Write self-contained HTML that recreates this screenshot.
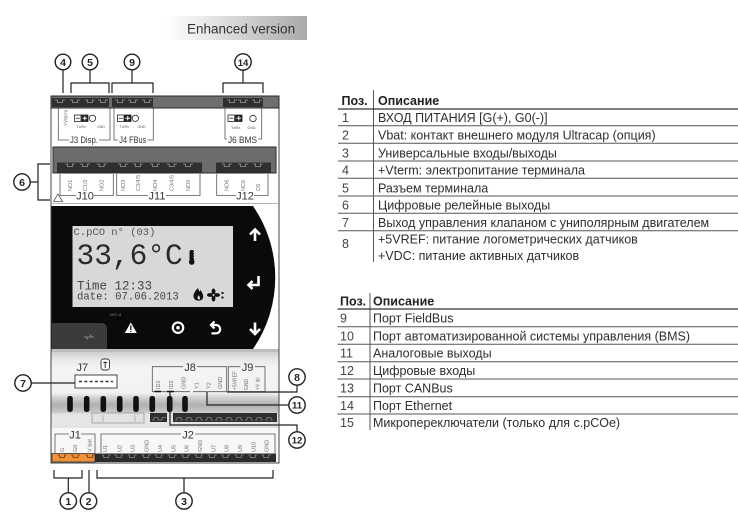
<!DOCTYPE html>
<html><head><meta charset="utf-8">
<style>
html,body{margin:0;padding:0;background:#fff;}
svg{display:block;}
text{font-family:"Liberation Sans",Arial,sans-serif;}
.mono{font-family:"Liberation Mono","DejaVu Sans Mono",monospace;}
.t{font-size:12.5px;fill:#2e2e2e;}
.n{font-size:12.5px;fill:#444;}
.h{font-size:12.5px;font-weight:bold;fill:#222;}
.rl{font-size:5.5px;fill:#707070;}
.rs{font-size:5px;fill:#707070;}
.jl{font-size:11px;fill:#333;}
.js{font-size:9.5px;fill:#333;}
.tiny{font-size:3.6px;fill:#555;}
.cn{font-size:10.5px;font-weight:bold;fill:#222;text-anchor:middle;}
</style></head><body>
<svg width="738" height="528" viewBox="0 0 738 528" xmlns="http://www.w3.org/2000/svg">
<defs>
<linearGradient id="eg" x1="0" x2="1" y1="0" y2="0">
<stop offset="0" stop-color="#ffffff"/><stop offset="0.25" stop-color="#ececec"/><stop offset="1" stop-color="#a9a9a9"/>
</linearGradient>
<linearGradient id="lg" gradientUnits="userSpaceOnUse" x1="0" y1="352" x2="0" y2="463">
<stop offset="0" stop-color="#cfcfcf"/>
<stop offset="0.072" stop-color="#e9e9e9"/>
<stop offset="0.144" stop-color="#f4f4f4"/>
<stop offset="0.369" stop-color="#f2f2f2"/>
<stop offset="0.405" stop-color="#d5d5d5"/>
<stop offset="0.477" stop-color="#b0b0b0"/>
<stop offset="0.54" stop-color="#c8c8c8"/>
<stop offset="0.56" stop-color="#e4e4e4"/>
<stop offset="0.667" stop-color="#e6e6e6"/>
<stop offset="0.685" stop-color="#f7f7f7"/>
<stop offset="1" stop-color="#f7f7f7"/>
</linearGradient>
</defs>

<!-- Enhanced version label -->
<rect x="165" y="16" width="142" height="24" fill="url(#eg)"/>
<text x="187" y="33.3" style="font-size:13.5px;fill:#333;">Enhanced version</text>

<!-- ===== DEVICE BODY ===== -->
<rect x="51" y="96" width="228" height="367" fill="#fff" stroke="#444" stroke-width="1"/>
<rect x="51.5" y="352" width="227" height="110.5" fill="url(#lg)"/>

<!-- top bar -->
<rect x="51" y="96" width="228" height="12" fill="#6f6f6f" stroke="#2a2a2a" stroke-width="1"/>
<rect x="52" y="98" width="57" height="9" fill="#2f2f2f"/>
<rect x="112" y="98" width="41" height="9" fill="#2f2f2f"/>
<rect x="223" y="98" width="40" height="9" fill="#2f2f2f"/>
<path d="M55 100h2.5v2.5h5v-2.5h2.5 M70 100h2.5v2.5h5v-2.5h2.5 M85 100h2.5v2.5h5v-2.5h2.5 M98 100h2.5v2.5h5v-2.5h2.5 M115 100h2.5v2.5h5v-2.5h2.5 M128 100h2.5v2.5h5v-2.5h2.5 M142 100h2.5v2.5h5v-2.5h2.5 M227 100h2.5v2.5h5v-2.5h2.5 M238 100h2.5v2.5h5v-2.5h2.5 M252 100h2.5v2.5h5v-2.5h2.5" stroke="#9a9a9a" stroke-width="0.8" fill="none"/>

<!-- J3 / J4 / J6 frames -->
<g stroke="#555" stroke-width="0.8" fill="none">
<path d="M58.3 108.5V140H69 M99 140H110V108.5"/>
<path d="M114 108.5V140H118 M147.5 140H153.3V108.5"/>
<path d="M225 108.5V139H227 M258 139H261.7V108.5"/>
</g>
<text class="js" x="70" y="143" textLength="28" lengthAdjust="spacingAndGlyphs">J3 Disp.</text>
<text class="js" x="119.3" y="143" textLength="27" lengthAdjust="spacingAndGlyphs">J4 FBus</text>
<text class="js" x="228" y="143" textLength="29" lengthAdjust="spacingAndGlyphs">J6 BMS</text>
<text class="rs" transform="translate(67.5,126) rotate(-90)">+Vterm</text>
<!-- icons -->
<g stroke="#222" stroke-width="0.8">
<rect x="74.5" y="115" width="6.5" height="6.5" fill="#fff"/><line x1="75.8" y1="118.25" x2="79.7" y2="118.25"/>
<rect x="81.5" y="115" width="6.5" height="6.5" fill="#222"/>
<circle cx="92.5" cy="118.3" r="3.2" fill="#fff"/>
<rect x="117.5" y="115" width="6.5" height="6.5" fill="#fff"/><line x1="118.8" y1="118.25" x2="122.7" y2="118.25"/>
<rect x="124.5" y="115" width="6.5" height="6.5" fill="#222"/>
<circle cx="135.3" cy="118.3" r="3.2" fill="#fff"/>
<rect x="228" y="115" width="6.5" height="6.5" fill="#fff"/><line x1="229.3" y1="118.25" x2="233.2" y2="118.25"/>
<rect x="235.5" y="115" width="6.5" height="6.5" fill="#222"/>
<circle cx="253" cy="118.5" r="3.2" fill="#fff"/>
</g>
<g stroke="#fff" stroke-width="1">
<path d="M82.6 118.25h4.3 M84.75 116.1v4.3 M125.6 118.25h4.3 M127.75 116.1v4.3 M236.6 118.25h4.3 M238.75 116.1v4.3"/>
</g>
<text class="tiny" x="76.5" y="128">Tx/Rx</text><text class="tiny" x="97" y="128">GND</text>
<text class="tiny" x="119.5" y="128">Tx/Rx</text><text class="tiny" x="137.5" y="128">GND</text>
<text class="tiny" x="231" y="129">Tx/Rx</text><text class="tiny" x="247.5" y="129">GND</text>

<!-- second bar -->
<rect x="53" y="147" width="223" height="26" fill="#6c6c6c" stroke="#2a2a2a" stroke-width="1"/>
<rect x="57" y="162.5" width="145" height="10" fill="#2f2f2f"/>
<rect x="216" y="162.5" width="55" height="10" fill="#2f2f2f"/>
<path d="M65 164h2.5v2.5h5v-2.5h2.5 M80 164h2.5v2.5h5v-2.5h2.5 M96.7 164h2.5v2.5h5v-2.5h2.5 M118 164h2.5v2.5h5v-2.5h2.5 M133 164h2.5v2.5h5v-2.5h2.5 M150 164h2.5v2.5h5v-2.5h2.5 M166.7 164h2.5v2.5h5v-2.5h2.5 M183 164h2.5v2.5h5v-2.5h2.5 M221.7 164h2.5v2.5h5v-2.5h2.5 M238 164h2.5v2.5h5v-2.5h2.5 M253 164h2.5v2.5h5v-2.5h2.5" stroke="#9a9a9a" stroke-width="0.8" fill="none"/>

<!-- relay labels -->
<text class="rl" transform="translate(72,191) rotate(-90)">NO1</text>
<text class="rl" transform="translate(87,191) rotate(-90)">C1/2</text>
<text class="rl" transform="translate(103.7,191) rotate(-90)">NO2</text>
<text class="rl" transform="translate(125,191) rotate(-90)">NO3</text>
<text class="rl" transform="translate(140,191) rotate(-90)">C3/4/5</text>
<text class="rl" transform="translate(157,191) rotate(-90)">NO4</text>
<text class="rl" transform="translate(173.7,191) rotate(-90)">C3/4/5</text>
<text class="rl" transform="translate(190,191) rotate(-90)">NO5</text>
<text class="rl" transform="translate(228.7,191) rotate(-90)">NO6</text>
<text class="rl" transform="translate(245,191) rotate(-90)">NC6</text>
<text class="rl" transform="translate(260,191) rotate(-90)">C6</text>
<g stroke="#555" stroke-width="0.8" fill="none">
<path d="M60 174V195.5H76 M94 195.5H113.3V174"/>
<path d="M116.7 174V195.5H148 M166 195.5H200V174"/>
<path d="M216.7 174V195.5H236 M254 195.5H268V174"/>
<path d="M58 194L62.5 201.5H53.5Z"/>
</g>
<text class="jl" x="85" y="199.5" text-anchor="middle">J10</text>
<text class="jl" x="157" y="199.5" text-anchor="middle">J11</text>
<text class="jl" x="245" y="199.5" text-anchor="middle">J12</text>
<line x1="51" y1="203.5" x2="279" y2="203.5" stroke="#999" stroke-width="0.8"/>

<!-- display panel -->
<path d="M51.5 206H253A126 126 0 0 1 253 349H51.5Z" fill="#0a0a0a"/>
<rect x="72.5" y="226" width="160.5" height="81" fill="#d8d8d8"/>
<text class="mono" x="73.5" y="235" style="font-size:10.5px;fill:#555;">C.pCO n° (03)</text>
<text class="mono" x="76.5" y="264" style="font-size:29.5px;fill:#2a2a2a;">33,6°C</text>
<rect x="189.5" y="250" width="4.5" height="11" rx="2" fill="#111"/>
<circle cx="191.75" cy="262" r="2.8" fill="#111"/>
<path d="M193 252.5h1.5 M193 255h1.5 M193 257.5h1.5" stroke="#d8d8d8" stroke-width="0.7"/>
<text class="mono" x="77" y="289.3" style="font-size:12.5px;fill:#444;">Time 12:33</text>
<text class="mono" x="77" y="299.3" style="font-size:10.6px;fill:#444;">date: 07.06.2013</text>
<path d="M198 288C193 293 193 296 194 298C195 301.5 202 301.5 203 298C204 294 201 292 200.5 289C200.5 292 199.5 293 198 288Z" fill="#111"/>
<path d="M198.5 299.5C197 298.5 197.5 296.5 198.7 295.2C199.5 296.5 200.5 297.5 199.8 299.5Z" fill="#d8d8d8"/>
<g fill="#111">
<ellipse cx="213.5" cy="291.6" rx="1.9" ry="3.1"/>
<ellipse cx="213.5" cy="298.4" rx="1.9" ry="3.1"/>
<ellipse cx="210.1" cy="295" rx="3.1" ry="1.9"/>
<ellipse cx="216.9" cy="295" rx="3.1" ry="1.9"/>
<rect x="221.5" y="292" width="2" height="2"/><rect x="221.5" y="296.5" width="2" height="2"/>
</g>
<circle cx="213.5" cy="295" r="1" fill="#d8d8d8"/>

<!-- buttons -->
<g stroke="#fff" stroke-width="2.6" fill="none" stroke-linecap="butt">
<path d="M255 241V230 M250 234.5L255 229.5L260 234.5"/>
<path d="M258.5 276V285H249 M252.5 281L248.5 285L252.5 289"/>
<path d="M255 322.5V333.5 M250 329L255 334L260 329"/>
<circle cx="178" cy="327.7" r="5.2" stroke-width="2.2"/>
<path d="M211.5 325H216A4.2 4.2 0 0 1 216 333.4H211.5" stroke-width="2.2"/>
<path d="M214.5 321.5L211 325L214.5 328.5" stroke-width="2.2"/>
</g>
<circle cx="178" cy="327.7" r="1.8" fill="#fff"/>
<path d="M130.8 322.5L136.8 333H124.8Z" fill="#fff"/>
<path d="M130.8 325.5V330 M130.8 331V332" stroke="#0a0a0a" stroke-width="1.3"/>
<path d="M52 323H101Q107 323 107 329V349H52Z" fill="#3b3b3b"/>
<path d="M84 337h10 M90 334.5l2 2.5 M88 339.5l-2 -2.5" stroke="#999" stroke-width="0.8" fill="none"/>
<text x="110" y="316" style="font-size:3.8px;fill:#888;">NFC-8</text>
<rect x="51.5" y="349" width="227" height="3" fill="#bdbdbd"/>

<!-- J7 -->
<text class="jl" x="76.5" y="371">J7</text>
<rect x="101" y="359" width="8.5" height="11" rx="2.5" fill="#fff" stroke="#333" stroke-width="0.9"/>
<path d="M105.2 361.5V368 M103.3 362.5h3.8" stroke="#333" stroke-width="1"/>
<rect x="75" y="375" width="42" height="13" fill="#fff" stroke="#333" stroke-width="0.9"/>
<path d="M79 381.5H113" stroke="#333" stroke-width="1.5" stroke-dasharray="3 2.3"/>

<!-- J8 / J9 frames -->
<g stroke="#555" stroke-width="0.8" fill="none">
<path d="M152.3 391.7V366.7H183 M197 366.7H226.7V391.7"/>
<path d="M228.3 391.7V366.7H240.5 M255 366.7H265V391.7"/>
<path d="M152.3 391.7H190 M193 391.7H226.7 M228.3 391.7H265"/>
</g>
<path d="M154.5 391.5H161 M167 391.5H174" stroke="#111" stroke-width="1.6"/>
<text class="jl" x="190" y="371" text-anchor="middle">J8</text>
<text class="jl" x="247.5" y="371" text-anchor="middle">J9</text>
<text class="rl" transform="translate(160,389) rotate(-90)">ID1</text>
<text class="rl" transform="translate(173,389) rotate(-90)">ID2</text>
<text class="rl" transform="translate(185.3,389) rotate(-90)">GND</text>
<text class="rl" transform="translate(198.7,389) rotate(-90)">Y1</text>
<text class="rl" transform="translate(210.3,389) rotate(-90)">Y2</text>
<text class="rl" transform="translate(222,389) rotate(-90)">GND</text>
<text class="rs" transform="translate(236.3,390) rotate(-90)">+5VREF</text>
<text class="rs" transform="translate(248,390) rotate(-90)">GND</text>
<text class="rs" transform="translate(259.7,390) rotate(-90)">+V dc</text>

<!-- pins -->
<g fill="#111">
<rect x="67.2" y="396" width="5.6" height="16" rx="2.5"/>
<rect x="83.9" y="396" width="5.6" height="16" rx="2.5"/>
<rect x="100.5" y="396" width="5.6" height="16" rx="2.5"/>
<rect x="116.9" y="396" width="5.6" height="16" rx="2.5"/>
<rect x="133.2" y="396" width="5.6" height="16" rx="2.5"/>
<rect x="149.5" y="396" width="5.6" height="16" rx="2.5"/>
<rect x="166.9" y="396" width="5.6" height="16" rx="2.5"/>
<rect x="182.2" y="396" width="5.6" height="16" rx="2.5"/>
</g>
<rect x="92" y="413" width="52" height="10" fill="#e2e2e2" stroke="#9a9a9a" stroke-width="0.8"/>
<path d="M103 415V422 M135 415V422" stroke="#aaa" stroke-width="0.8"/>
<rect x="150" y="413" width="17" height="9" fill="#2f2f2f"/>
<rect x="173" y="413" width="104" height="9" fill="#2f2f2f"/>
<path d="M152 420h2v-2.5h4v2.5h2 M160 420h2v-2.5h4 M175 420h2v-2.5h4v2.5h2 M185 420h2v-2.5h4v2.5h2 M195 420h2v-2.5h4v2.5h2 M205 420h2v-2.5h4v2.5h2 M215 420h2v-2.5h4v2.5h2 M225 420h2v-2.5h4v2.5h2 M235 420h2v-2.5h4v2.5h2 M245 420h2v-2.5h4v2.5h2 M255 420h2v-2.5h4v2.5h2 M265 420h2v-2.5h4v2.5h2" stroke="#8a8a8a" stroke-width="0.7" fill="none"/>
<line x1="51.5" y1="427" x2="278.5" y2="427" stroke="#cfcfcf" stroke-width="0.8"/>

<!-- J1 / J2 -->
<g stroke="#555" stroke-width="0.8" fill="none">
<path d="M55 453V434H69 M81 434H95V453"/>
<path d="M101 453V434H181 M195 434H275V453"/>
</g>
<text class="jl" x="75" y="438.3" text-anchor="middle">J1</text>
<text class="jl" x="188" y="438.3" text-anchor="middle">J2</text>
<text class="rl" transform="translate(64,452) rotate(-90)">G</text>
<text class="rl" transform="translate(77,452) rotate(-90)">G0</text>
<text class="rl" transform="translate(91.5,452) rotate(-90)">V bat</text>
<text class="rl" transform="translate(107,452) rotate(-90)">U1</text>
<text class="rl" transform="translate(121.3,452) rotate(-90)">U2</text>
<text class="rl" transform="translate(134.7,452) rotate(-90)">U3</text>
<text class="rl" transform="translate(148.7,452) rotate(-90)">GND</text>
<text class="rl" transform="translate(162,452) rotate(-90)">U4</text>
<text class="rl" transform="translate(175.3,452) rotate(-90)">U5</text>
<text class="rl" transform="translate(188.7,452) rotate(-90)">U6</text>
<text class="rl" transform="translate(202,452) rotate(-90)">GND</text>
<text class="rl" transform="translate(215.3,452) rotate(-90)">U7</text>
<text class="rl" transform="translate(228.7,452) rotate(-90)">U8</text>
<text class="rl" transform="translate(242,452) rotate(-90)">U9</text>
<text class="rl" transform="translate(255.3,452) rotate(-90)">U10</text>
<text class="rl" transform="translate(268.7,452) rotate(-90)">GND</text>
<rect x="52" y="453.5" width="43" height="8.5" fill="#f0923a" stroke="#333" stroke-width="0.8"/>
<rect x="95" y="453.5" width="181" height="8.5" fill="#2b2b2b"/>
<path d="M57.5 455h2v2.5h5v-2.5h2 M71 455h2v2.5h5v-2.5h2 M85.5 455h2v2.5h5v-2.5h2" stroke="#6a3a10" stroke-width="0.8" fill="none"/>
<path d="M101.7 455h2v2.5h5v-2.5h2 M114.3 455h2v2.5h5v-2.5h2 M127.7 455h2v2.5h5v-2.5h2 M141.7 455h2v2.5h5v-2.5h2 M154.3 455h2v2.5h5v-2.5h2 M167.7 455h2v2.5h5v-2.5h2 M181 455h2v2.5h5v-2.5h2 M194.3 455h2v2.5h5v-2.5h2 M207.7 455h2v2.5h5v-2.5h2 M221 455h2v2.5h5v-2.5h2 M234.3 455h2v2.5h5v-2.5h2 M248.3 455h2v2.5h5v-2.5h2 M261.7 455h2v2.5h5v-2.5h2" stroke="#8a8a8a" stroke-width="0.8" fill="none"/>

<!-- leaders -->
<g stroke="#222" stroke-width="1.2" fill="none">
<path d="M63 70V93 M90 70V83 M71 93V83H109V93 M132 70V83 M112 93V83H153V93 M243 70V83 M223 93V83H263V93"/>
<path d="M30 182H38 M50 164H38V200H50"/>
<path d="M31 383H75"/>
<path d="M227 392H297V385"/>
<path d="M289 405H207V392"/>
<path d="M297 432V425H170V392"/>
<path d="M54 470V478H82V470 M68.3 478V493"/>
<path d="M89 470V493"/>
<path d="M97 470V478H273V470 M184 478V493"/>
</g>
<g stroke="#222" stroke-width="1.4" fill="#fff">
<circle cx="63" cy="62" r="7.8"/>
<circle cx="90" cy="62" r="7.8"/>
<circle cx="132" cy="62" r="7.8"/>
<circle cx="243" cy="62" r="8.2"/>
<circle cx="22" cy="182" r="8.2"/>
<circle cx="23" cy="383" r="8.2"/>
<circle cx="297" cy="377" r="8.2"/>
<circle cx="297" cy="405" r="8.2"/>
<circle cx="297" cy="440" r="8.2"/>
<circle cx="68.3" cy="501" r="8.2"/>
<circle cx="88.5" cy="501" r="8.2"/>
<circle cx="184" cy="501" r="8.2"/>
</g>
<text class="cn" x="63" y="65.8">4</text>
<text class="cn" x="90" y="65.8">5</text>
<text class="cn" x="132" y="65.8">9</text>
<text class="cn" x="243" y="65.8" style="font-size:9.5px">14</text>
<text class="cn" x="22" y="185.8">6</text>
<text class="cn" x="23" y="386.8">7</text>
<text class="cn" x="297" y="380.8">8</text>
<text class="cn" x="297" y="408.5" style="font-size:9.5px">11</text>
<text class="cn" x="297" y="443.5" style="font-size:9.5px">12</text>
<text class="cn" x="68.3" y="504.8">1</text>
<text class="cn" x="88.5" y="504.8">2</text>
<text class="cn" x="184" y="504.8">3</text>

<!-- ===== TABLE 1 ===== -->
<g stroke="#555" stroke-width="1">
<line x1="373.5" y1="90" x2="373.5" y2="262"/>
<line x1="338" y1="109" x2="738" y2="109" stroke="#333" stroke-width="1.2"/>
<line x1="338" y1="125.7" x2="738" y2="125.7"/>
<line x1="338" y1="143.3" x2="738" y2="143.3"/>
<line x1="338" y1="161" x2="738" y2="161"/>
<line x1="338" y1="178.3" x2="738" y2="178.3"/>
<line x1="338" y1="196" x2="738" y2="196"/>
<line x1="338" y1="213.3" x2="738" y2="213.3"/>
<line x1="338" y1="230.7" x2="738" y2="230.7"/>
</g>
<text class="h" x="341.5" y="105">Поз.</text>
<text class="h" x="378" y="105">Описание</text>
<text class="n" x="342" y="122">1</text><text class="t" x="378" y="122">ВХОД ПИТАНИЯ [G(+), G0(-)]</text>
<text class="n" x="342" y="139.6">2</text><text class="t" x="378" y="139.6">Vbat: контакт внешнего модуля Ultracap (опция)</text>
<text class="n" x="342" y="157.3">3</text><text class="t" x="378" y="157.3">Универсальные входы/выходы</text>
<text class="n" x="342" y="174.6">4</text><text class="t" x="378" y="174.6">+Vterm: электропитание терминала</text>
<text class="n" x="342" y="192.3">5</text><text class="t" x="378" y="192.3">Разъем терминала</text>
<text class="n" x="342" y="209.6">6</text><text class="t" x="378" y="209.6">Цифровые релейные выходы</text>
<text class="n" x="342" y="227">7</text><text class="t" x="378" y="227">Выход управления клапаном с униполярным двигателем</text>
<text class="n" x="342" y="248">8</text>
<text class="t" x="378" y="243.3">+5VREF: питание логометрических датчиков</text>
<text class="t" x="378" y="260">+VDC: питание активных датчиков</text>

<!-- ===== TABLE 2 ===== -->
<g stroke="#555" stroke-width="1">
<line x1="370" y1="293" x2="370" y2="430"/>
<line x1="337.5" y1="309" x2="738" y2="309" stroke="#333" stroke-width="1.2"/>
<line x1="337.5" y1="326.7" x2="738" y2="326.7"/>
<line x1="337.5" y1="344.3" x2="738" y2="344.3"/>
<line x1="337.5" y1="361.7" x2="738" y2="361.7"/>
<line x1="337.5" y1="379" x2="738" y2="379"/>
<line x1="337.5" y1="396.7" x2="738" y2="396.7"/>
<line x1="337.5" y1="414" x2="738" y2="414"/>
</g>
<text class="h" x="340" y="305.7">Поз.</text>
<text class="h" x="373" y="305.7">Описание</text>
<text class="n" x="340" y="322.7">9</text><text class="t" x="373" y="322.7">Порт FieldBus</text>
<text class="n" x="340" y="340.3">10</text><text class="t" x="373" y="340.3">Порт автоматизированной системы управления (BMS)</text>
<text class="n" x="340" y="357.7">11</text><text class="t" x="373" y="357.7">Аналоговые выходы</text>
<text class="n" x="340" y="375">12</text><text class="t" x="373" y="375">Цифровые входы</text>
<text class="n" x="340" y="392.7">13</text><text class="t" x="373" y="392.7">Порт CANBus</text>
<text class="n" x="340" y="410">14</text><text class="t" x="373" y="410">Порт Ethernet</text>
<text class="n" x="340" y="427">15</text><text class="t" x="373" y="427">Микропереключатели (только для c.pCOe)</text>
</svg>
</body></html>
